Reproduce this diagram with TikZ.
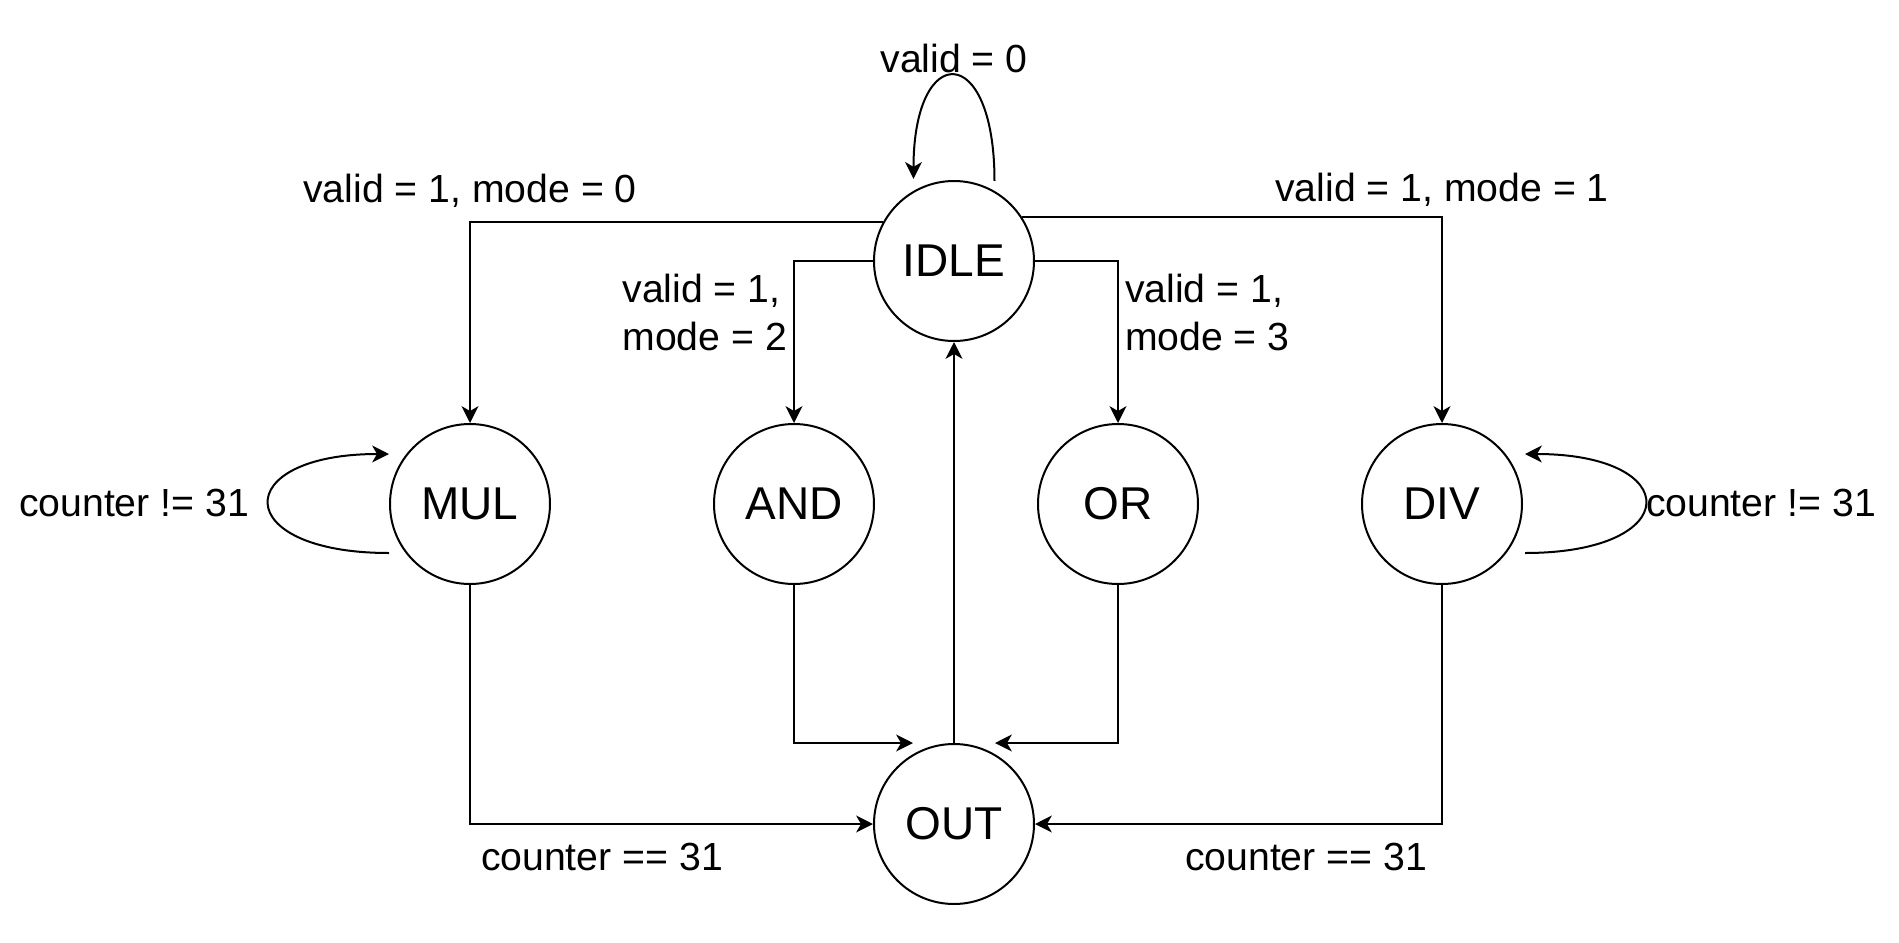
\documentclass[tikz,border=0pt]{standalone}
\usepackage{fontspec}
\setmainfont{Liberation Sans}
\usetikzlibrary{positioning, arrows.meta, calc}
\tikzstyle{st}=[%
      circle, draw=black, line width=0.5pt, fill=white,
      minimum size=40pt, inner sep=0pt, font=\fontsize{11.5}{13}\selectfont
]
\tikzstyle{lb}=[%
      font=\fontsize{9.8}{12}\selectfont, text=black
]

\begin{document}
\begin{tikzpicture}[x=0.25pt, y=-0.25pt,
    line width=0.5pt,
    ->,
    -{Stealth[length=4.2pt,width=4.2pt,inset=1.2pt]},
    node distance=40.5pt
  ]
    \useasboundingbox (0,0) rectangle (1899,943);

    \node[st] (idle) at (954,261) {IDLE};
    \node[st] (mul)  at (470,504) {MUL};
    \node[st] (and) [right = of mul] {AND};
    \node[st] (or)  [right = of and] {OR};
    \node[st] (div) [right = of or]  {DIV};
    \node[st] (out)  at (954,824) {OUT};

    % from IDLE
    \draw (idle.151) -| node[lb, above, pos=0.5] {valid = 1, mode = 0} (mul.north);
    \draw (idle.west) -| node[lb, left, align=left, pos=0.66, inner sep=1.5pt] {valid = 1,\\mode = 2} (and.north);
    \draw (idle.east) -| node[lb, right, align=left, pos=0.66, inner sep=1.5pt] {valid = 1,\\mode = 3} (or.north);
    \draw (idle.33) -| node[lb, above, pos=0.5, inner sep=2.3pt] {valid = 1, mode = 1} (div.north);
    \draw[shorten <=2.5pt, shorten >=3pt] (idle.60) .. controls +(0,-150) and +(0,-150) .. node[lb, above, inner sep=1pt] {valid = 0} (idle.120);

    % self loops
    \draw ($(mul.west)+(0,49)$) .. controls +(-160,0) and +(-160,0) .. node[lb, left, inner sep=4.75pt] {counter != 31} ($(mul.west)+(0,-50)$);
    \draw ($(div.east)+(2,49)$) .. controls +(160,0) and +(160,0) .. node[lb, right, inner sep=0pt] {counter != 31} ($(div.east)+(2,-50)$);

    % to OUT
    \draw (mul.south) |- node[lb, below right, pos=0.5, inner xsep=2.5pt, inner ysep=4.5pt] {counter == 31} (out.west);
    \draw (div.south) |- node[lb, below left, pos=0.5, inner xsep=3.5pt, inner ysep=4.5pt] {counter == 31} (out.east);
    \draw (and.south) |- ($(out.north)+(-41,0)$);
    \draw (or.south) |- ($(out.north)+(41,0)$);
    \draw (out.north) -- (idle.south);

  \end{tikzpicture}
\end{document}
